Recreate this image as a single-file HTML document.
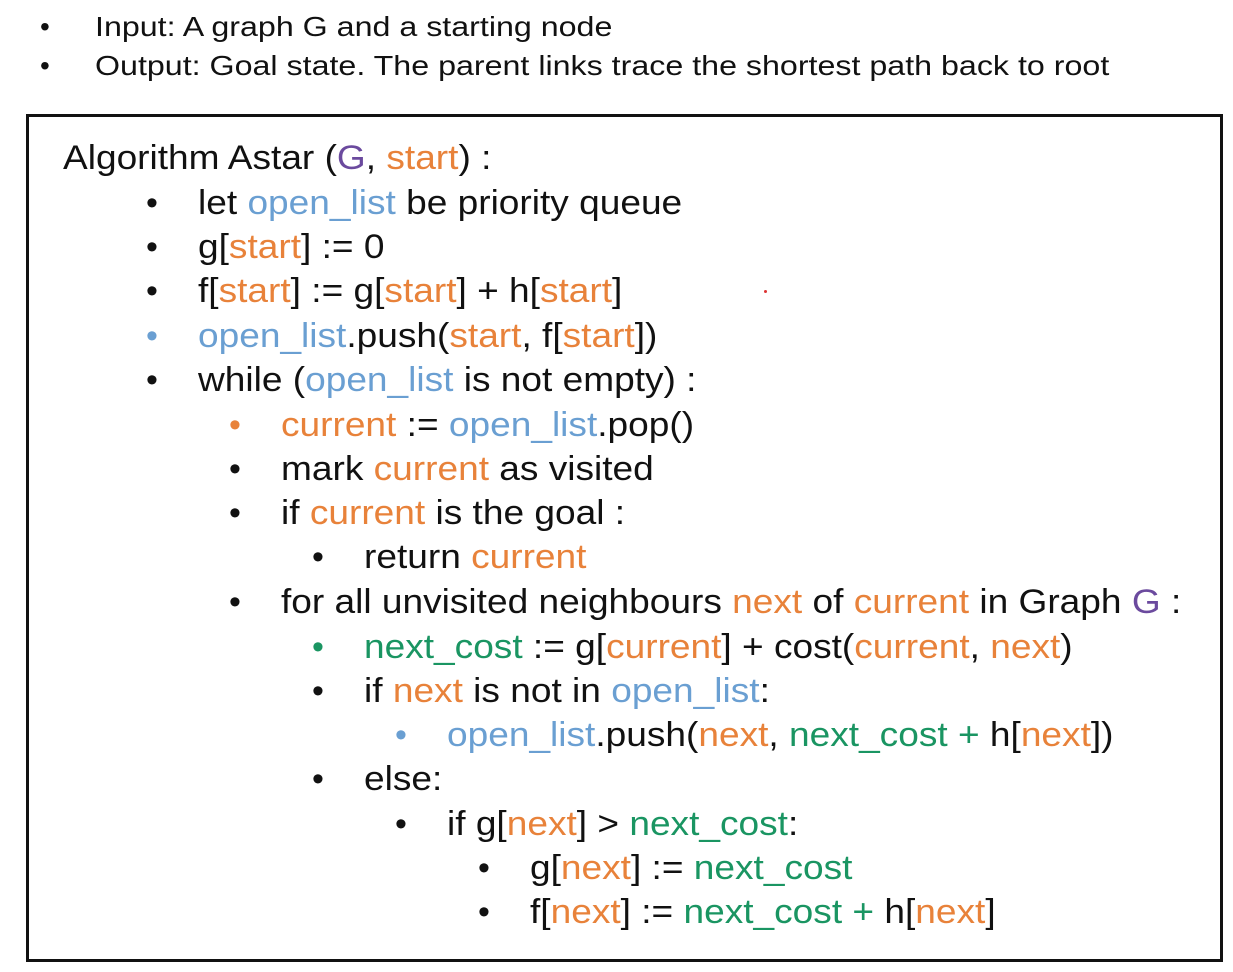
<!DOCTYPE html>
<html><head><meta charset="utf-8"><style>
body{margin:0;width:1233px;height:972px;background:#fff;font-family:"Liberation Sans",Arial,sans-serif;color:#111;position:relative;overflow:hidden}
.l{position:absolute;white-space:nowrap;line-height:40px;height:40px;transform-origin:0 50%}
.h{font-size:28px}
.h.t{transform:scaleX(1.15)}
.c{font-size:34px}
.c.t{transform:scaleX(1.09)}
.o{color:#e8823a}.b{color:#6a9fd2}.g{color:#1a9562}.p{color:#6b4a9e}
#box{position:absolute;left:26px;top:114px;width:1191px;height:842px;border:3px solid #111}
</style></head><body>
<div class="l h" style="left:40px;top:7px">•</div><div class="l h t" style="left:95px;top:7px">Input: A graph G and a starting node</div>
<div class="l h" style="left:40px;top:46px">•</div><div class="l h t" style="left:95px;top:46px">Output: Goal state. The parent links trace the shortest path back to root</div>
<div id="box"></div>
<div class="l c t" style="left:63px;top:138px">Algorithm Astar (<span class="p">G</span>, <span class="o">start</span>) :</div>

<div class="l c" style="left:146px;top:183px">•</div><div class="l c t" style="left:198px;top:183px">let <span class="b">open_list</span> be priority queue</div>
<div class="l c" style="left:146px;top:227px">•</div><div class="l c t" style="left:198px;top:227px">g[<span class="o">start</span>] := 0</div>
<div class="l c" style="left:146px;top:271px">•</div><div class="l c t" style="left:198px;top:271px">f[<span class="o">start</span>] := g[<span class="o">start</span>] + h[<span class="o">start</span>]</div>
<div class="l c b" style="left:146px;top:316px">•</div><div class="l c t" style="left:198px;top:316px"><span class="b">open_list</span>.push(<span class="o">start</span>, f[<span class="o">start</span>])</div>
<div class="l c" style="left:146px;top:360px">•</div><div class="l c t" style="left:198px;top:360px">while (<span class="b">open_list</span> is not empty) :</div>

<div class="l c o" style="left:229px;top:405px">•</div><div class="l c t" style="left:281px;top:405px"><span class="o">current</span> := <span class="b">open_list</span>.pop()</div>
<div class="l c" style="left:229px;top:449px">•</div><div class="l c t" style="left:281px;top:449px">mark <span class="o">current</span> as visited</div>
<div class="l c" style="left:229px;top:493px">•</div><div class="l c t" style="left:281px;top:493px">if <span class="o">current</span> is the goal :</div>
<div class="l c" style="left:312px;top:537px">•</div><div class="l c t" style="left:364px;top:537px">return <span class="o">current</span></div>
<div class="l c" style="left:229px;top:582px">•</div><div class="l c t" style="left:281px;top:582px">for all unvisited neighbours <span class="o">next</span> of <span class="o">current</span> in Graph <span class="p">G</span> :</div>

<div class="l c g" style="left:312px;top:627px">•</div><div class="l c t" style="left:364px;top:627px"><span class="g">next_cost</span> := g[<span class="o">current</span>] + cost(<span class="o">current</span>, <span class="o">next</span>)</div>
<div class="l c" style="left:312px;top:671px">•</div><div class="l c t" style="left:364px;top:671px">if <span class="o">next</span> is not in <span class="b">open_list</span>:</div>
<div class="l c b" style="left:395px;top:715px">•</div><div class="l c t" style="left:447px;top:715px"><span class="b">open_list</span>.push(<span class="o">next</span>, <span class="g">next_cost +</span> h[<span class="o">next</span>])</div>
<div class="l c" style="left:312px;top:759px">•</div><div class="l c t" style="left:364px;top:759px">else:</div>
<div class="l c" style="left:395px;top:804px">•</div><div class="l c t" style="left:447px;top:804px">if g[<span class="o">next</span>] &gt; <span class="g">next_cost</span>:</div>
<div class="l c" style="left:478px;top:848px">•</div><div class="l c t" style="left:530px;top:848px">g[<span class="o">next</span>] := <span class="g">next_cost</span></div>
<div class="l c" style="left:478px;top:892px">•</div><div class="l c t" style="left:530px;top:892px">f[<span class="o">next</span>] := <span class="g">next_cost +</span> h[<span class="o">next</span>]</div>
<div style="position:absolute;left:764px;top:290px;width:3px;height:3px;background:#d33;border-radius:50%"></div>
</body></html>
